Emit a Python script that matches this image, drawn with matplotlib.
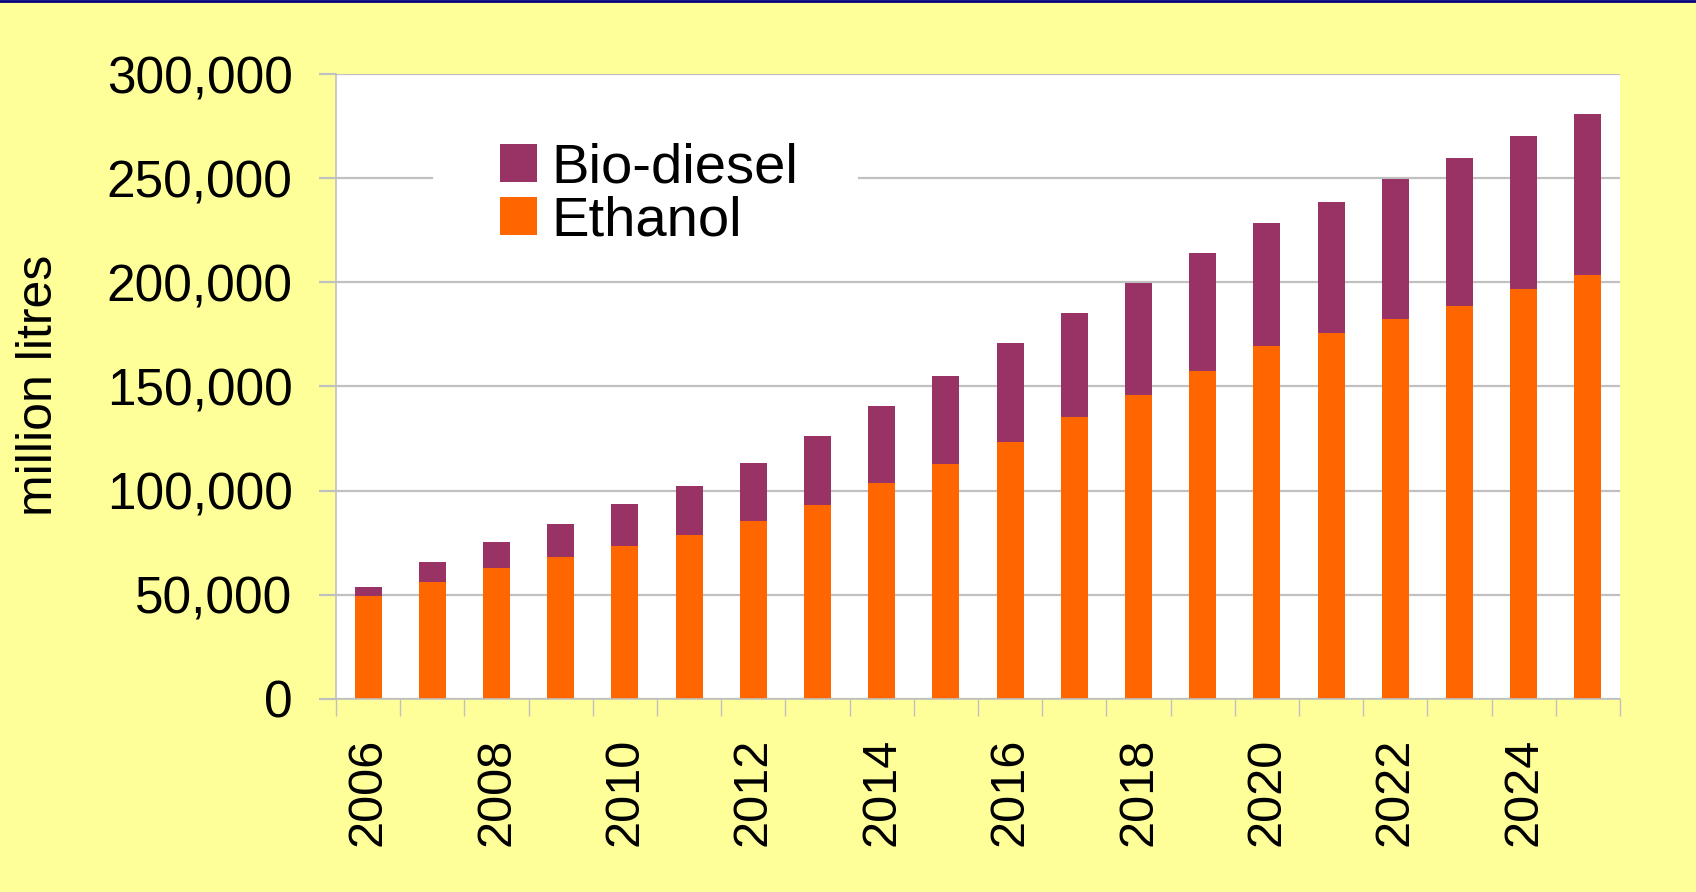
import matplotlib
matplotlib.use("Agg")
import matplotlib.pyplot as plt
import numpy as np
from matplotlib.ticker import StrMethodFormatter, FixedLocator, NullFormatter
from matplotlib.patches import Rectangle
from matplotlib.lines import Line2D

# ---- data (million litres) ----
years = list(range(2006, 2026))
ethanol = [49400, 56200, 62900, 68200, 73500, 78400, 85100, 92900, 103400, 112600,
           123200, 135300, 145900, 157400, 169500, 175800, 182500, 188800, 197000, 203700]
biodiesel = [4300, 9600, 12100, 15900, 19800, 24000, 27900, 33100, 37100, 42400,
             47600, 50000, 53900, 56800, 59200, 62900, 67400, 71200, 73600, 77500]
year_labels = [str(y) if y % 2 == 0 else "" for y in years]
yticks = [0, 50000, 100000, 150000, 200000, 250000, 300000]

ETH_C = "#FF6600"
BIO_C = "#993366"
BG = "#FFFF99"
GRID = "#C0C0C0"

plt.rcParams["font.family"] = ["Liberation Sans", "DejaVu Sans"]

W, H = 1696, 892
fig = plt.figure(figsize=(W / 100, H / 100), dpi=100, facecolor=BG)
ax = fig.add_axes([336 / W, 1 - 698.5 / H, (1620 - 336) / W, (698.5 - 74.5) / H])
ax.set_facecolor("white")

x = np.arange(len(years))
ax.bar(x, ethanol, width=0.42, color=ETH_C, label="Ethanol", zorder=2)
ax.bar(x, biodiesel, width=0.42, bottom=ethanol, color=BIO_C, label="Bio-diesel", zorder=2)

ax.set_xlim(-0.5, len(years) - 0.5)
ax.set_ylim(0, 300000)
ax.set_yticks(yticks)
ax.yaxis.set_major_formatter(StrMethodFormatter("{x:,.0f}"))
ax.set_axisbelow(True)
ax.yaxis.grid(True, color=GRID, linewidth=1.6)
ax.xaxis.grid(False)

# x ticks: labels at centers, tick marks at boundaries
ax.set_xticks(x)
ax.set_xticklabels(year_labels, rotation=90, fontsize=35)
ax.xaxis.set_minor_locator(FixedLocator(np.arange(-0.5, len(years), 1.0)))
ax.xaxis.set_minor_formatter(NullFormatter())
ax.tick_params(axis="x", which="major", length=0, pad=28)
ax.tick_params(axis="x", which="minor", length=12.2, width=1.0, color=GRID)
ax.tick_params(axis="y", which="major", length=12.2, width=1.6, color=GRID,
               labelsize=37, pad=19)

for s in ["top", "right"]:
    ax.spines[s].set_visible(False)
for s in ["left", "bottom"]:
    ax.spines[s].set_color(GRID)
    ax.spines[s].set_linewidth(1.2)

fig.text(39 / W, 1 - 385 / H, "million litres", rotation=90, ha="center", va="center",
         fontsize=36)

# white patch behind legend (Excel legend background hides gridline)
ax.add_patch(Rectangle((433 / W, 1 - 245 / H), 425 / W, 120 / H, transform=fig.transFigure,
                       facecolor="white", edgecolor="none", zorder=1, clip_on=False))

handles, labels = ax.get_legend_handles_labels()
leg = ax.legend(handles[::-1], labels[::-1], loc="center left",
                bbox_to_anchor=(500 / W, 1 - 195 / H), bbox_transform=fig.transFigure,
                frameon=False, fontsize=40.5, borderpad=0, borderaxespad=0,
                handlelength=0.66, handleheight=0.66, handletextpad=0.26,
                labelspacing=0.02)
leg.set_zorder(5)

# navy border at top
fig.add_artist(Line2D([0, 1], [1 - 1 / H, 1 - 1 / H], transform=fig.transFigure,
                      color="#000080", linewidth=2.0))

fig.savefig("out.png", dpi=100, facecolor=BG)
